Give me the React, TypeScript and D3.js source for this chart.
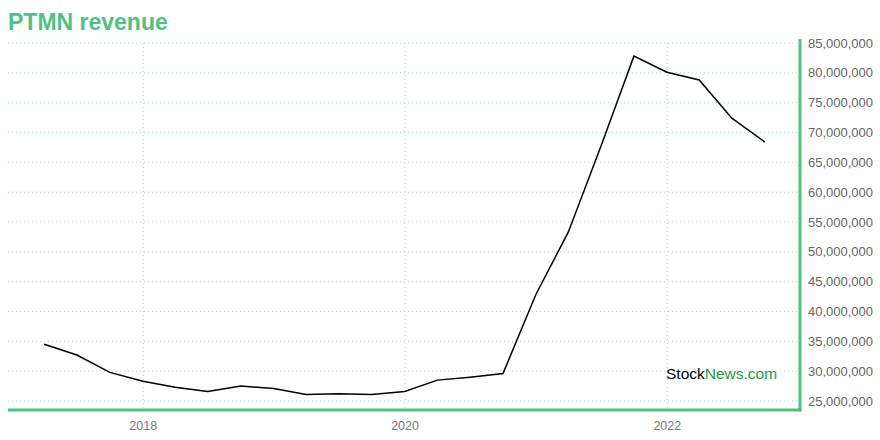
import React from "react";
import * as d3 from "d3";

const dates = [
  "2017-03-31","2017-06-30","2017-09-30","2017-12-31",
  "2018-03-31","2018-06-30","2018-09-30","2018-12-31",
  "2019-03-31","2019-06-30","2019-09-30","2019-12-31",
  "2020-03-31","2020-06-30","2020-09-30","2020-12-31",
  "2021-03-31","2021-06-30","2021-09-30","2021-12-31",
  "2022-03-31","2022-06-30","2022-09-30",
];
const revenue = [
  34.5, 32.7, 29.8, 28.3,
  27.3, 26.6, 27.5, 27.1,
  26.1, 26.2, 26.1, 26.6,
  28.5, 29.0, 29.6, 42.9,
  53.3, 67.7, 82.8, 80.1,
  78.8, 72.4, 68.4,
].map((v) => v * 1e6);
const yTicks = [25, 30, 35, 40, 45, 50, 55, 60, 65, 70, 75, 80, 85].map((v) => v * 1e6);
const xTickYears = [2018, 2020, 2022];

const W = 880, H = 440;
const left = 8, right = 800, top = 43, bottom = 401, axisY = 410;
const green = "#4fc282";
const gridColor = "#9fe3bb";

export default function App() {
  const x = d3.scaleTime()
    .domain([new Date(2016, 11, 20), new Date(2023, 0, 6)])
    .range([left, right]);
  const y = d3.scaleLinear().domain([25e6, 85e6]).range([bottom, top]);
  const data = dates.map((d, i) => ({ date: new Date(d + "T00:00:00"), value: revenue[i] }));
  const line = d3.line<{ date: Date; value: number }>()
    .x((d) => x(d.date))
    .y((d) => y(d.value));
  const fmt = d3.format(",");
  return (
    <svg width={W} height={H} style={{ position: "absolute", left: 0, top: 0, fontFamily: "Liberation Sans, Arial, sans-serif" }}>
      <rect width={W} height={H} fill="#fff" />
      <text x={8} y={30} fill={green} fontSize={23} fontWeight="bold">PTMN revenue</text>
      {yTicks.map((t) => (
        <line key={"gy" + t} x1={left} x2={right} y1={y(t)} y2={y(t)} stroke={gridColor} strokeDasharray="1,3" strokeWidth={1} />
      ))}
      {xTickYears.map((yr) => {
        const xx = x(new Date(yr, 0, 1));
        return <line key={"gx" + yr} x1={xx} x2={xx} y1={top} y2={axisY} stroke={gridColor} strokeDasharray="1,3" strokeWidth={1} />;
      })}
      <path d={line(data) || ""} fill="none" stroke="#000" strokeWidth={1.5} />
      <line x1={left} x2={right + 1.5} y1={axisY} y2={axisY} stroke={green} strokeWidth={3} />
      <line x1={right} x2={right} y1={top - 4} y2={axisY + 1.5} stroke={green} strokeWidth={3} />
      {yTicks.map((t) => (
        <text key={"ty" + t} x={808} y={y(t)} dy="0.35em" fill="#666" fontSize={13}>{fmt(t)}</text>
      ))}
      {xTickYears.map((yr) => (
        <text key={"tx" + yr} x={x(new Date(yr, 0, 1))} y={430} textAnchor="middle" fill="#777" fontSize={12.5}>{yr}</text>
      ))}
      <text x={666} y={379} fontSize={15.5}>
        <tspan fill="#000">Stock</tspan><tspan fill="#1f9a47">News.com</tspan>
      </text>
    </svg>
  );
}
